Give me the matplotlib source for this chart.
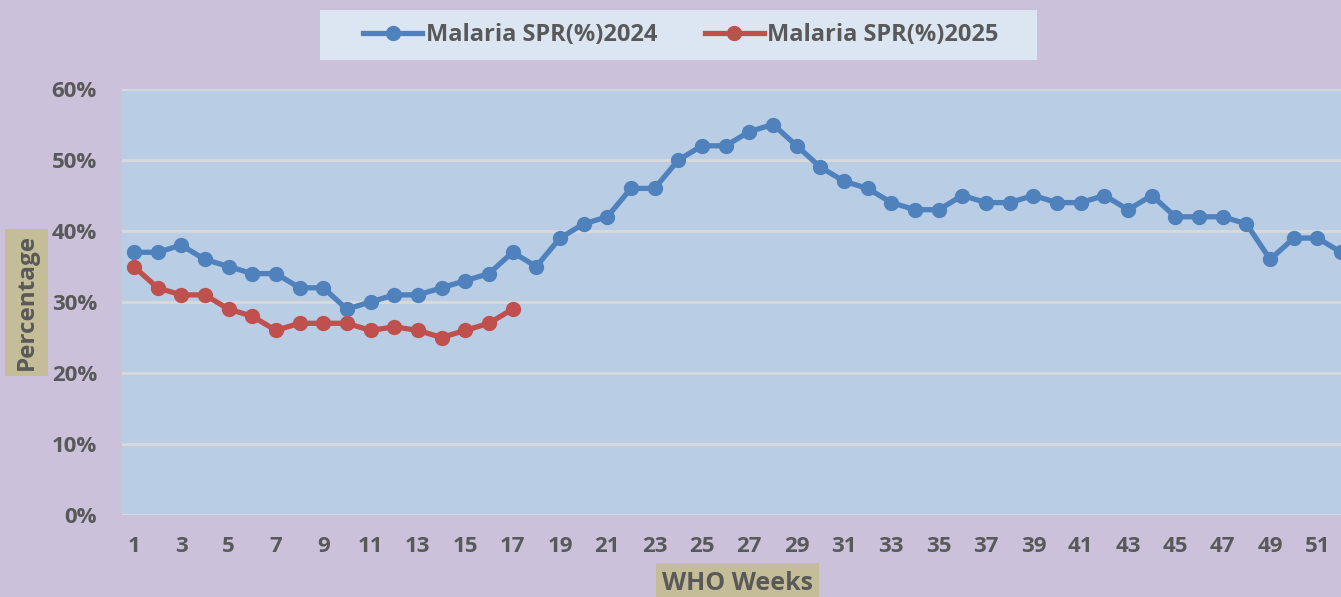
import matplotlib.pyplot as plt
from matplotlib.patches import Rectangle
from matplotlib.ticker import FuncFormatter

# data
weeks_2024 = list(range(1, 53))
spr_2024 = [37, 37, 38, 36, 35, 34, 34, 32, 32, 29, 30, 31, 31, 32, 33, 34, 37, 35,
            39, 41, 42, 46, 46, 50, 52, 52, 54, 55, 52, 49, 47, 46, 44, 43, 43, 45,
            44, 44, 45, 44, 44, 45, 43, 45, 42, 42, 42, 41, 36, 39, 39, 37]
weeks_2025 = list(range(1, 18))
spr_2025 = [35, 32, 31, 31, 29, 28, 26, 27, 27, 27, 26, 26.5, 26, 25, 26, 27, 29]
xticks = list(range(1, 53, 2))
yticks = [0, 10, 20, 30, 40, 50, 60]

bg = '#CCC1DA'
plot_bg = '#B9CDE5'
txt = '#595959'
tan = '#C4BD97'

plt.rcParams['font.family'] = ['Open Sans', 'DejaVu Sans']

W, H = 1341, 597
fig = plt.figure(figsize=(W / 100, H / 100), dpi=100, facecolor=bg)
ax = fig.add_axes([122 / W, (H - 515) / H, (1353 - 122) / W, (515 - 89) / H])
ax.set_facecolor(plot_bg)

ax.plot(weeks_2024, spr_2024, color='#4F81BD', lw=3.8, marker='o', ms=10,
        label='Malaria SPR(%)2024', zorder=3, clip_on=False)
ax.plot(weeks_2025, spr_2025, color='#C0504D', lw=3.8, marker='o', ms=10,
        label='Malaria SPR(%)2025', zorder=3)

ax.set_xlim(0.5, 52.5)
ax.set_ylim(0, 60)
ax.set_xticks(xticks)
ax.set_yticks(yticks)
ax.yaxis.set_major_formatter(FuncFormatter(lambda v, p: f'{v:.0f}%'))
ax.grid(axis='y', color='#D9D9D9', lw=2, zorder=1)
ax.grid(axis='x', visible=False)
for s in ax.spines.values():
    s.set_visible(False)
ax.tick_params(length=0, labelsize=16, labelcolor=txt)
ax.tick_params(axis='x', pad=15)
ax.tick_params(axis='y', pad=18)
for lab in ax.get_xticklabels() + ax.get_yticklabels():
    lab.set_fontweight('bold')

# legend box (drawn as a plain rectangle behind the legend)
fig.add_artist(Rectangle((320 / W, 1 - 60 / H), 717 / W, 50 / H,
                         transform=fig.transFigure, color='#DCE6F2', lw=0))
leg = fig.legend(loc='center', bbox_to_anchor=(681 / W, 1 - 35 / H),
                 ncol=2, frameon=False, fontsize=17,
                 handlelength=2.5, handletextpad=0.15, columnspacing=2.0,
                 borderaxespad=0)
for t in leg.get_texts():
    t.set_color(txt)
    t.set_fontweight('bold')

# axis title boxes
fig.add_artist(Rectangle((5 / W, 1 - 376 / H), 43 / W, 147 / H,
                         transform=fig.transFigure, color=tan, lw=0))
fig.text(26.5 / W, 1 - 302.5 / H, 'Percentage', rotation=90, ha='center',
         va='center', fontsize=17.5, fontweight='bold', color=txt)
fig.add_artist(Rectangle((656 / W, 0), 163 / W, 34 / H,
                         transform=fig.transFigure, color=tan, lw=0))
fig.text(737.5 / W, 1 - 584 / H, 'WHO Weeks', ha='center', va='center',
         fontsize=18, fontweight='bold', color=txt)

fig.savefig('out.png', dpi=100, facecolor=bg)
